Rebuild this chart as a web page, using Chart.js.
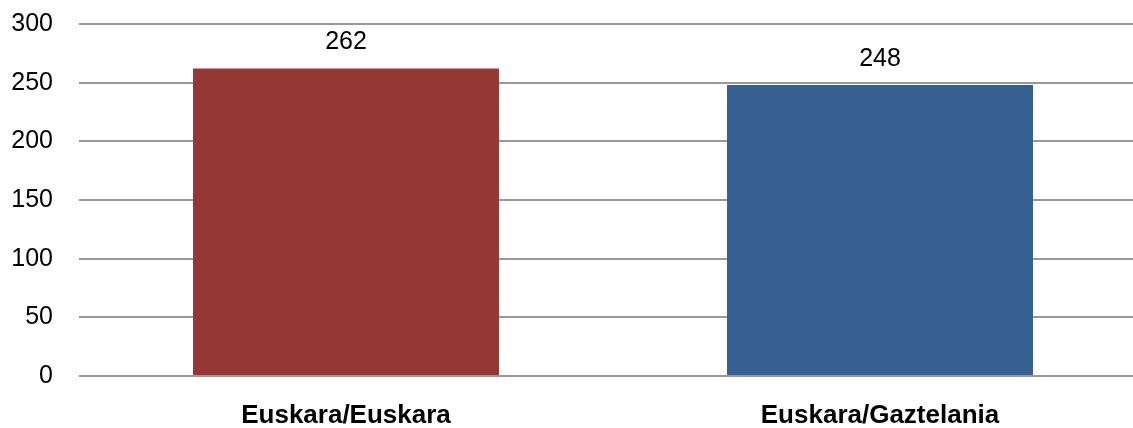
<!DOCTYPE html>
<html lang="eu">
<head>
<meta charset="utf-8">
<title>Euskara</title>
<script src="https://cdn.jsdelivr.net/npm/chart.js"></script>
<style>
  html, body { margin: 0; padding: 0; background: #fff; }
  #wrap { width: 1133px; height: 428px; overflow: hidden; }
</style>
</head>
<body>
<div id="wrap"><canvas id="myChart" width="1150" height="428"></canvas></div>
<script>
const categories = ['Euskara/Euskara', 'Euskara/Gaztelania'];
const values = [262, 248];
const barColors = ['#953735', '#376092'];
const yTicks = [0, 50, 100, 150, 200, 250, 300];

// value above each bar
const valueLabels = {
    id: 'valueLabels',
    afterDatasetsDraw(chart) {
        const ctx = chart.ctx;
        const meta = chart.getDatasetMeta(0);
        ctx.save();
        ctx.font = '25px "Liberation Sans", Arial, sans-serif';
        ctx.fillStyle = '#000';
        ctx.textAlign = 'center';
        ctx.textBaseline = 'middle';
        meta.data.forEach((bar, i) => {
            ctx.fillText(values[i], bar.x, bar.y - 26);
        });
        ctx.restore();
    }
};

const ctx = document.getElementById('myChart').getContext('2d');
const myChart = new Chart(ctx, {
    type: 'bar',
    data: {
        labels: categories,
        datasets: [{
            data: values,
            backgroundColor: barColors,
            borderWidth: 0,
            barPercentage: 0.573,
            categoryPercentage: 1
        }]
    },
    options: {
        responsive: false,
        animation: false,
        layout: { padding: { top: 24, right: 3, left: 0, bottom: 0 } },
        plugins: {
            legend: { display: false },
            tooltip: { enabled: false }
        },
        scales: {
            x: {
                grid: { display: false },
                border: { display: false },
                ticks: {
                    color: '#000',
                    padding: 16,
                    font: { family: '"Liberation Sans", Arial, sans-serif', size: 26, weight: 'bold' }
                },
                afterFit(scale) { scale.height = 52; }
            },
            y: {
                min: 0,
                max: 300,
                afterBuildTicks(scale) { scale.ticks = yTicks.map(v => ({ value: v })); },
                grid: { color: '#999999', lineWidth: 2, drawTicks: false },
                border: { display: false },
                ticks: {
                    color: '#000',
                    padding: 26,
                    font: { family: '"Liberation Sans", Arial, sans-serif', size: 25 }
                },
                afterFit(scale) {
                    scale.width = 79;
                    scale.paddingTop = 0;
                    scale.paddingBottom = 0;
                }
            }
        }
    },
    plugins: [valueLabels]
});
</script>
</body>
</html>
